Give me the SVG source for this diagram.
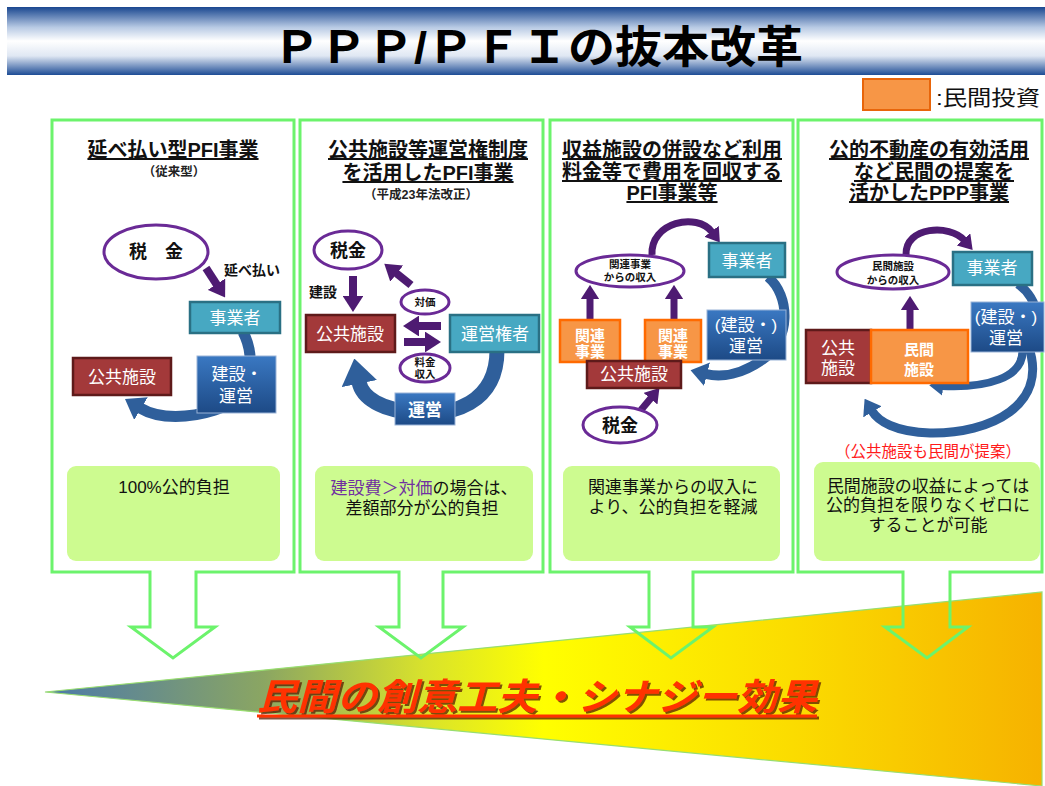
<svg xmlns="http://www.w3.org/2000/svg" width="1045" height="786" viewBox="0 0 1045 786">
<defs>
<linearGradient id="hdr" x1="0" y1="0" x2="0" y2="1">
<stop offset="0" stop-color="#1a4790"/><stop offset="0.3" stop-color="#b8cae4"/><stop offset="0.5" stop-color="#ffffff"/><stop offset="0.72" stop-color="#dfe7f3"/><stop offset="1" stop-color="#1d4c95"/>
</linearGradient>
<linearGradient id="tri" x1="45" y1="0" x2="1042" y2="0" gradientUnits="userSpaceOnUse">
<stop offset="0" stop-color="#4b79aa"/><stop offset="0.22" stop-color="#8ba662"/><stop offset="0.38" stop-color="#d8e22c"/><stop offset="0.5" stop-color="#ffff00"/><stop offset="0.75" stop-color="#fbdc00"/><stop offset="1" stop-color="#f6b200"/>
</linearGradient>
<linearGradient id="bluebox" x1="0" y1="0" x2="0" y2="1">
<stop offset="0" stop-color="#3a78c2"/><stop offset="1" stop-color="#1d4a86"/>
</linearGradient>
<marker id="ph" viewBox="0 0 8 10" refX="0.5" refY="5" markerWidth="2" markerHeight="2.6" orient="auto" markerUnits="strokeWidth" preserveAspectRatio="none"><path d="M0,0 L8,5 L0,10 z" fill="#4e1b72"/></marker>
<marker id="bh" viewBox="0 0 8 10" refX="0.5" refY="5" markerWidth="1.7" markerHeight="2.4" orient="auto" markerUnits="strokeWidth" preserveAspectRatio="none"><path d="M0,0 L8,5 L0,10 z" fill="#2f5f9b"/></marker>
<filter id="shd" x="-5%" y="-20%" width="110%" height="150%"><feDropShadow dx="2" dy="2" stdDeviation="0.6" flood-color="#5a1e00" flood-opacity="0.75"/></filter>
</defs>
<style>
text{font-family:"Liberation Sans","Noto Sans CJK JP",sans-serif;text-anchor:middle;}
.ttl{font-size:20px;font-weight:bold;fill:#111;text-decoration:underline;}
.sub{font-size:12.5px;font-weight:bold;fill:#222;}
.bx{font-size:17px;fill:#ffffff;}
.bb{font-size:15px;fill:#ffffff;font-weight:bold;}
.el{fill:#ffffff;stroke:#6a2a96;stroke-width:3;}
.et{font-size:18px;font-weight:bold;fill:#111;}
.es{font-size:10.5px;font-weight:bold;fill:#111;}
.lb{font-size:14px;font-weight:bold;fill:#111;}
.teal{fill:#47a8c2;stroke:#2a7084;stroke-width:2.5;}
.red{fill:#a3393a;stroke:#5e1a1a;stroke-width:2.5;}
.blue{fill:url(#bluebox);stroke:#9ab4d8;stroke-width:1;}
.org{fill:#f79646;stroke:#ff6a00;stroke-width:2.5;}
.panel{fill:none;stroke:#6cf36c;stroke-width:3;}
.gbox{fill:#cdfb90;}
.bt{font-size:17px;fill:#111;}
.pa{fill:none;stroke:#4e1b72;marker-end:url(#ph);}
.ba{fill:none;stroke:#2f5f9b;}
</style>
<rect width="1045" height="786" fill="#ffffff"/>
<g id="header">
<rect x="7" y="7" width="1038" height="68" fill="url(#hdr)"/>
<text x="538" y="63" font-size="44" font-weight="bold" fill="#000" textLength="530" lengthAdjust="spacingAndGlyphs">ＰＰＰ/ＰＦＩの抜本改革</text>
</g>
<g id="legend">
<rect x="863" y="79" width="67" height="31" fill="#f79646" stroke="#e8650a" stroke-width="2"/>
<text x="936" y="105" font-size="21" fill="#111" style="text-anchor:start" textLength="104" lengthAdjust="spacingAndGlyphs">:民間投資</text>
</g>
<g id="synergy">
<polygon points="45,692 1042,592 1042,786" fill="url(#tri)" stroke="#98dd70" stroke-width="1.2"/>
<g filter="url(#shd)">
<text x="257" y="710" font-size="37" font-weight="bold" font-style="italic" fill="#ff3300" style="text-anchor:start" textLength="560" lengthAdjust="spacingAndGlyphs">民間の創意工夫・シナジー効果</text>
<line x1="257" y1="716" x2="817" y2="716" stroke="#ff3300" stroke-width="3"/>
</g>
</g>
<g id="panels">
<path class="panel" d="M52,120 H294 V572 H196 V627 H215 L173,658 L131,627 H150 V572 H52 Z"/>
<path class="panel" d="M300,120 H543 V572 H443 V627 H463 L421,658 L379,627 H399 V572 H300 Z"/>
<path class="panel" d="M550,120 H793 V572 H693 V627 H713 L671,658 L630,627 H649 V572 H550 Z"/>
<path class="panel" d="M798,120 H1042 V572 H950 V627 H968 L927,658 L885,627 H903 V572 H798 Z"/>
<rect class="gbox" x="67" y="466" width="213" height="95" rx="9"/>
<rect class="gbox" x="315" y="466" width="218" height="95" rx="9"/>
<rect class="gbox" x="563" y="466" width="217" height="95" rx="9"/>
<rect class="gbox" x="814" y="462" width="226" height="99" rx="9"/>
</g>
<g id="connectors">
<line class="pa" x1="206" y1="268" x2="217" y2="285" stroke-width="8"/>
<path class="ba" d="M243,332 C258,360 250,400 215,410 C190,418 160,420 140,408" stroke-width="11" marker-end="url(#bh)"/>
<line class="pa" x1="353" y1="276" x2="353" y2="297" stroke-width="8"/>
<line class="pa" x1="411" y1="285" x2="396" y2="273" stroke-width="8"/>
<line class="pa" x1="441" y1="326" x2="418" y2="326" stroke-width="8"/>
<line class="pa" x1="404" y1="342" x2="426" y2="342" stroke-width="8"/>
<path class="ba" d="M497,350 C497,405 450,415 420,413 C380,411 362,397 359,382" stroke-width="15" marker-end="url(#bh)"/>
<path class="pa" d="M652,255 C650,222 697,212 712,232" stroke-width="7"/>
<line class="pa" x1="590" y1="320" x2="590" y2="298" stroke-width="7"/>
<line class="pa" x1="674" y1="320" x2="674" y2="298" stroke-width="7"/>
<line class="pa" x1="641" y1="410" x2="651" y2="398" stroke-width="7"/>
<path class="ba" d="M768,277 C790,295 792,340 762,360 C742,374 722,378 706,374" stroke-width="10" marker-end="url(#bh)"/>
<path class="pa" d="M906,255 C905,226 950,224 964,240" stroke-width="7"/>
<line class="pa" x1="910" y1="330" x2="910" y2="309" stroke-width="7"/>
<path class="ba" d="M1018,284 C1040,300 1043,330 1030,350" stroke-width="9"/>
<path class="ba" d="M1028,345 C1050,405 990,434 930,433 C895,432 878,421 872,411" stroke-width="9" marker-end="url(#bh)"/>
<path class="ba" d="M1022,345 C1028,380 982,388 942,386" stroke-width="8" marker-end="url(#bh)"/>
</g>
<g id="panel1">
<text class="ttl" x="173" y="157">延べ払い型PFI事業</text>
<text class="sub" x="174" y="176">（従来型）</text>
<g id="p1-tax"><ellipse class="el" cx="156" cy="252" rx="52" ry="27"/><text class="et" x="156" y="258">税　金</text></g>
<text class="lb" x="252" y="275">延べ払い</text>
<g id="p1-operator"><rect class="teal" x="190" y="302" width="90" height="31"/><text class="bx" x="235" y="324">事業者</text></g>
<g id="p1-build"><rect class="blue" x="197" y="356" width="79" height="57"/><text class="bx" x="237" y="380" font-size="18">建設・</text><text class="bx" x="236" y="402" font-size="18">運営</text></g>
<g id="p1-public"><rect class="red" x="73" y="358" width="98" height="37"/><text class="bx" x="122" y="383">公共施設</text></g>
<text class="bt" x="174" y="493">100%公的負担</text>
</g>
<g id="panel2">
<text class="ttl" x="428" y="157">公共施設等運営権制度</text>
<text class="ttl" x="428" y="180">を活用したPFI事業</text>
<text class="sub" x="421" y="199" font-size="13.5">（平成23年法改正）</text>
<g id="p2-tax"><ellipse class="el" cx="348" cy="250" rx="34" ry="19"/><text class="et" x="348" y="257">税金</text></g>
<text class="lb" x="309" y="297" style="text-anchor:start">建設</text>
<g id="p2-price"><ellipse class="el" cx="425" cy="302" rx="24" ry="12" stroke-width="2.5"/><text class="es" x="425" y="306">対価</text></g>
<g id="p2-public"><rect class="red" x="306" y="315" width="89" height="37"/><text class="bx" x="350" y="340">公共施設</text></g>
<g id="p2-concession"><rect class="teal" x="450" y="315" width="89" height="37"/><text class="bx" x="495" y="340" font-size="18">運営権者</text></g>
<g id="p2-fee"><ellipse class="el" cx="425" cy="368" rx="25" ry="14" stroke-width="2.5"/><text class="es" x="425" y="366">料金</text><text class="es" x="425" y="378">収入</text></g>
<g id="p2-op"><rect class="blue" x="395" y="393" width="60" height="32"/><text class="bx" x="425" y="416" font-size="18" font-weight="bold">運営</text></g>
<text class="bt" x="424" y="494"><tspan fill="#7030a0">建設費＞対価</tspan>の場合は、</text>
<text class="bt" x="422" y="514">差額部分が公的負担</text>
</g>
<g id="panel3">
<text class="ttl" x="672" y="157" font-size="18.5">収益施設の併設など利用</text>
<text class="ttl" x="672" y="179" font-size="18.5">料金等で費用を回収する</text>
<text class="ttl" x="672" y="200" font-size="18.5">PFI事業等</text>
<g id="p3-income"><ellipse class="el" cx="630" cy="271" rx="54" ry="16"/><text class="es" x="630" y="268">関連事業</text><text class="es" x="630" y="281">からの収入</text></g>
<g id="p3-operator"><rect class="teal" x="709" y="243" width="76" height="34"/><text class="bx" x="747" y="267" font-size="19">事業者</text></g>
<g id="p3-rel1"><rect class="org" x="560" y="320" width="60" height="42"/><text class="bb" x="590" y="341">関連</text><text class="bb" x="590" y="357">事業</text></g>
<g id="p3-rel2"><rect class="org" x="645" y="320" width="56" height="42"/><text class="bb" x="673" y="341">関連</text><text class="bb" x="673" y="357">事業</text></g>
<g id="p3-public"><rect class="red" x="587" y="361" width="94" height="27"/><text class="bx" x="634" y="380" font-size="16">公共施設</text></g>
<g id="p3-build"><rect class="blue" x="707" y="310" width="79" height="50"/><text class="bx" x="746" y="331">(建設・)</text><text class="bx" x="746" y="352">運営</text></g>
<g id="p3-tax"><ellipse class="el" cx="620" cy="425" rx="37" ry="18"/><text class="et" x="620" y="432">税金</text></g>
<text class="bt" x="673" y="493">関連事業からの収入に</text>
<text class="bt" x="673" y="513">より、公的負担を軽減</text>
</g>
<g id="panel4">
<text class="ttl" x="929" y="157">公的不動産の有効活用</text>
<text class="ttl" x="934" y="179">など民間の提案を</text>
<text class="ttl" x="929" y="200">活かしたPPP事業</text>
<g id="p4-income"><ellipse class="el" cx="893" cy="272" rx="56" ry="17"/><text class="es" x="893" y="270">民間施設</text><text class="es" x="893" y="284">からの収入</text></g>
<g id="p4-operator"><rect class="teal" x="953" y="252" width="79" height="33"/><text class="bx" x="992" y="274">事業者</text></g>
<g id="p4-public"><rect class="red" x="806" y="330" width="65" height="53"/><text class="bx" x="838" y="354" font-size="16">公共</text><text class="bx" x="838" y="374" font-size="16">施設</text></g>
<g id="p4-private"><rect class="org" x="871" y="330" width="97" height="53"/><text class="bb" x="919" y="355" font-size="18">民間</text><text class="bb" x="919" y="375" font-size="18">施設</text></g>
<g id="p4-build"><rect class="blue" x="971" y="302" width="73" height="50"/><text class="bx" x="1006" y="323" font-size="15">(建設・)</text><text class="bx" x="1006" y="344" font-size="16">運営</text></g>
<text x="928" y="457" font-size="15.5" fill="#ff1a1a">（公共施設も民間が提案）</text>
<text class="bt" x="928" y="492" font-size="16.5">民間施設の収益によっては</text>
<text class="bt" x="928" y="511" font-size="16.5">公的負担を限りなくゼロに</text>
<text class="bt" x="928" y="531" font-size="16.5">することが可能</text>
</g>
</svg>
